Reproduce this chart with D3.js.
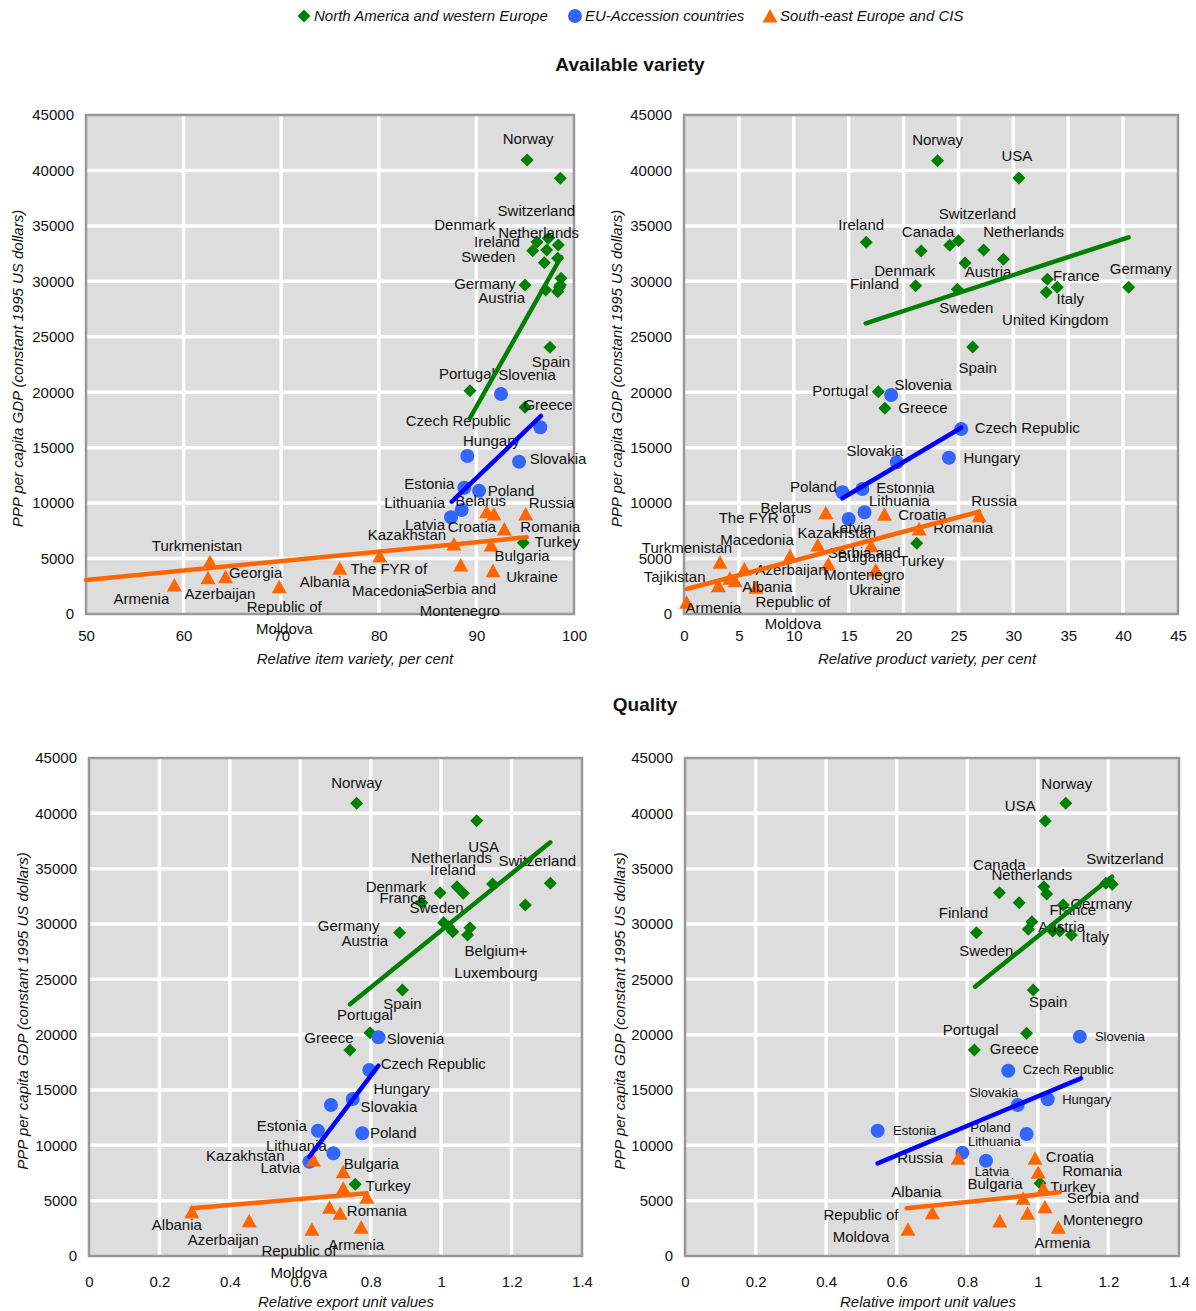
<!DOCTYPE html>
<html>
<head>
<meta charset="utf-8">
<script src="https://cdn.jsdelivr.net/npm/d3@7"></script>
<style>
  body { margin: 0; background: #fff; }
  svg text { font-family: "Liberation Sans", Arial, sans-serif; fill: #111; }
</style>
</head>
<body>
<svg id="chart" width="1196" height="1311"></svg>
<script>
// groups (legend order)
const groups = ['North America and western Europe', 'EU-Accession countries', 'South-east Europe and CIS'];

// y ticks (GDP) shared by all panels
const gdpTicks = [0, 5000, 10000, 15000, 20000, 25000, 30000, 35000, 40000, 45000];
const itemTicks = [50, 60, 70, 80, 90, 100];
const productTicks = [0, 5, 10, 15, 20, 25, 30, 35, 40, 45];
const unitValueTicks = [0, 0.2, 0.4, 0.6, 0.8, 1, 1.2, 1.4];

// [country, group, x value, PPP GDP per capita]
const itemVariety = [
  ['Norway', 0, 95.2, 40940], ['USA', 0, 98.6, 39290], ['Switzerland', 0, 97.37, 33880],
  ['Ireland', 0, 96.21, 33550], ['Canada', 0, 98.39, 33280], ['Denmark', 0, 95.77, 32760],
  ['Netherlands', 0, 97.2, 32830], ['Belgium+Luxembourg', 0, 98.33, 32080], ['Sweden', 0, 96.96, 31680],
  ['France', 0, 98.67, 30270], ['Finland', 0, 98.6, 29670], ['Italy', 0, 98.5, 29460],
  ['Germany', 0, 94.98, 29670], ['Austria', 0, 97.1, 29220], ['United Kingdom', 0, 98.33, 29070],
  ['Spain', 0, 97.54, 24050], ['Portugal', 0, 89.34, 20140], ['Greece', 0, 94.98, 18640],
  ['Turkey', 0, 94.8, 6430],
  ['Slovenia', 1, 92.52, 19840], ['Czech Republic', 1, 96.55, 16840], ['Hungary', 1, 89.07, 14250],
  ['Slovakia', 1, 94.37, 13730], ['Estonia', 1, 88.76, 11390], ['Poland', 1, 90.27, 11120],
  ['Lithuania', 1, 88.49, 9380], ['Latvia', 1, 87.4, 8720],
  ['Belarus', 2, 91.05, 9225], ['Croatia', 2, 91.8, 9020], ['Russia', 2, 95.05, 9020],
  ['Romania', 2, 92.86, 7665], ['Kazakhstan', 2, 87.7, 6310], ['Bulgaria', 2, 91.5, 6220],
  ['Serbia and Montenegro', 2, 88.4, 4420], ['Ukraine', 2, 91.7, 3905], ['Turkmenistan', 2, 62.7, 4716],
  ['Armenia', 2, 59.05, 2615], ['Azerbaijan', 2, 62.5, 3274], ['Georgia', 2, 64.3, 3364],
  ['Republic of Moldova', 2, 69.8, 2462], ['Albania', 2, 76.0, 4121], ['The FYR of Macedonia', 2, 80.1, 5230]
];

const productVariety = [
  ['Norway', 0, 23.1, 40880], ['USA', 0, 30.5, 39320], ['Switzerland', 0, 25.0, 33660],
  ['Ireland', 0, 16.6, 33520], ['Denmark', 0, 24.2, 33250], ['Netherlands', 0, 27.3, 32830],
  ['Canada', 0, 21.6, 32730], ['Belgium+Luxembourg', 0, 29.1, 31990], ['Austria', 0, 25.6, 31650],
  ['France', 0, 33.1, 30180], ['Finland', 0, 21.1, 29610], ['Italy', 0, 34.0, 29460],
  ['Germany', 0, 40.5, 29460], ['Sweden', 0, 24.9, 29280], ['United Kingdom', 0, 33.0, 29010],
  ['Spain', 0, 26.3, 24080], ['Portugal', 0, 17.7, 20050], ['Greece', 0, 18.3, 18550],
  ['Turkey', 0, 21.2, 6375],
  ['Slovenia', 1, 18.87, 19750], ['Czech Republic', 1, 25.25, 16680], ['Hungary', 1, 24.13, 14095],
  ['Slovakia', 1, 19.39, 13680], ['Poland', 1, 14.43, 10975], ['Estonia', 1, 16.25, 11270],
  ['Lithuania', 1, 16.44, 9170], ['Latvia', 1, 15.0, 8567],
  ['Belarus', 2, 12.92, 9135], ['Croatia', 2, 18.26, 8990], ['Russia', 2, 26.89, 8865],
  ['Romania', 2, 21.42, 7665], ['Kazakhstan', 2, 12.19, 6222], ['Bulgaria', 2, 17.05, 6160],
  ['Serbia and Montenegro', 2, 13.15, 4509], ['The FYR of Macedonia', 2, 9.66, 5260],
  ['Turkmenistan', 2, 3.28, 4660], ['Albania', 2, 5.5, 4058], ['Azerbaijan', 2, 4.65, 3003],
  ['Georgia', 2, 4.19, 3219], ['Republic of Moldova', 2, 6.56, 2408], ['Armenia', 2, 3.13, 2552],
  ['Tajikistan', 2, 0.24, 1055], ['Ukraine', 2, 17.47, 3968]
];

const exportUnitValues = [
  ['Norway', 0, 0.760, 40906], ['USA', 0, 1.101, 39335], ['Switzerland', 0, 1.310, 33677],
  ['Netherlands', 0, 1.146, 33614], ['Ireland', 0, 1.045, 33370], ['Denmark', 0, 0.997, 32830],
  ['Canada', 0, 1.063, 32770], ['France', 0, 0.945, 31925], ['United Kingdom', 0, 1.239, 31716],
  ['Sweden', 0, 1.007, 30120], ['Finland', 0, 1.021, 29755], ['Belgium+Luxembourg', 0, 1.082, 29667],
  ['Austria', 0, 1.033, 29305], ['Germany', 0, 0.882, 29214], ['Italy', 0, 1.075, 29005],
  ['Spain', 0, 0.890, 24035], ['Portugal', 0, 0.798, 20180], ['Greece', 0, 0.741, 18614],
  ['Turkey', 0, 0.756, 6480],
  ['Slovenia', 1, 0.822, 19760], ['Czech Republic', 1, 0.796, 16807], ['Hungary', 1, 0.749, 14187],
  ['Slovakia', 1, 0.687, 13644], ['Estonia', 1, 0.650, 11324], ['Poland', 1, 0.776, 11088],
  ['Lithuania', 1, 0.694, 9280], ['Latvia', 1, 0.626, 8521],
  ['Kazakhstan', 2, 0.637, 8675], ['Bulgaria', 2, 0.722, 7617], ['Croatia', 2, 0.722, 6117],
  ['Romania', 2, 0.789, 5300], ['Serbia and Montenegro', 2, 0.683, 4400], ['Ukraine', 2, 0.713, 3855],
  ['Albania', 2, 0.292, 4005], ['Azerbaijan', 2, 0.455, 3190], ['Republic of Moldova', 2, 0.633, 2410],
  ['Armenia', 2, 0.773, 2590]
];

const importUnitValues = [
  ['Norway', 0, 1.079, 40906], ['USA', 0, 1.021, 39307], ['Switzerland', 0, 1.193, 33677],
  ['Ireland', 0, 1.211, 33586], ['Netherlands', 0, 1.017, 33370], ['Canada', 0, 0.891, 32830],
  ['Denmark', 0, 1.025, 32710], ['Belgium+Luxembourg', 0, 0.947, 31925], ['Germany', 0, 1.072, 31716],
  ['United Kingdom', 0, 0.983, 30210], ['Sweden', 0, 0.973, 29520], ['Austria', 0, 1.042, 29370],
  ['France', 0, 1.062, 29370], ['Finland', 0, 0.826, 29214], ['Italy', 0, 1.095, 29000],
  ['Spain', 0, 0.987, 24035], ['Portugal', 0, 0.968, 20120], ['Greece', 0, 0.820, 18614],
  ['Turkey', 0, 1.006, 6570],
  ['Slovenia', 1, 1.119, 19820], ['Czech Republic', 1, 0.916, 16745], ['Slovakia', 1, 0.943, 13644],
  ['Hungary', 1, 1.028, 14158], ['Estonia', 1, 0.546, 11324], ['Poland', 1, 0.968, 11024],
  ['Lithuania', 1, 0.786, 9334], ['Latvia', 1, 0.853, 8611],
  ['Russia', 2, 0.774, 8830], ['Croatia', 2, 0.992, 8830], ['Romania', 2, 1.001, 7560],
  ['Kazakhstan', 2, 1.015, 6117], ['Bulgaria', 2, 0.958, 5214], ['Serbia and Montenegro', 2, 1.020, 4456],
  ['Ukraine', 2, 0.971, 3855], ['Albania', 2, 0.701, 3915], ['Georgia', 2, 0.892, 3160],
  ['Republic of Moldova', 2, 0.632, 2410], ['Armenia', 2, 1.058, 2590]
];

// trend lines: [group, x0, y0, x1, y1]
const itemTrends = [[0, 89.34, 17675, 98.67, 32194], [1, 87.47, 10127, 96.62, 17856], [2, 50, 3066, 95.15, 6917]];
const productTrends = [[0, 16.56, 26215, 40.5, 33971], [1, 14.43, 10434, 25.25, 16801], [2, 0.25, 2254, 26.89, 9225]];
const exportTrends = [[0, 0.741, 22743, 1.310, 37382], [1, 0.626, 8973, 0.822, 17196], [2, 0.292, 4310, 0.789, 5666]];
const importTrends = [[0, 0.822, 24334, 1.210, 34274], [1, 0.546, 8376, 1.122, 16057], [2, 0.628, 4310, 1.062, 5756]];

// label placement: pixel offset of the label centre from its marker [dx, dy, text override]
const itemLabels = {
  Norway: [1, -21], Switzerland: [-12, -28], Ireland: [-40, 0], Denmark: [-68, -26], Netherlands: [-8, -17],
  Sweden: [-56, -6], Germany: [-40, -1], Austria: [-44, 8], Spain: [1, 14], Portugal: [-3, -17],
  Greece: [23, -3], Turkey: [34, -1],
  Slovenia: [26, -19], 'Czech Republic': [-82, -7], Hungary: [24, -15], Slovakia: [39, -3],
  Estonia: [-35, -4], Poland: [32, 0], Lithuania: [-47, -7], Latvia: [-26, 7],
  Belarus: [-6, -11], Croatia: [-22, 13], Russia: [26, -11], Romania: [46, -2], Kazakhstan: [-47, -9],
  Bulgaria: [31, 11], 'Serbia and Montenegro': [-1, 24], Ukraine: [39, 6], Turkmenistan: [-13, -16],
  Armenia: [-33, 14], Azerbaijan: [12, 16], Georgia: [30, -4], 'Republic of Moldova': [5, 20],
  Albania: [-15, 13], 'The FYR of Macedonia': [9, 13]
};
const productLabels = {
  Norway: [0, -21], USA: [-2, -22], Switzerland: [19, -27], Ireland: [-5, -18], Denmark: [-45, 25],
  Netherlands: [40, -18], Canada: [7, -19], Austria: [23, 9], France: [29, -4], Finland: [-41, -2],
  Italy: [13, 11], Germany: [12, -19], Sweden: [9, 18], 'United Kingdom': [9, 27], Spain: [5, 21],
  Portugal: [-38, -1], Greece: [38, -1], Turkey: [5, 17],
  Slovenia: [32, -10], 'Czech Republic': [66, -1], Hungary: [43, 0], Slovakia: [-22, -12],
  Poland: [-29, -6], Estonia: [43, -1, 'Estonnia'], Lithuania: [35, -12], Latvia: [3, 9],
  Belarus: [-40, -5], Croatia: [38, 0], Russia: [15, -15], Romania: [44, -1], Kazakhstan: [19, -12],
  Bulgaria: [-6, 11], 'Serbia and Montenegro': [36, -11], 'The FYR of Macedonia': [-33, -38],
  Turkmenistan: [-33, -15], Albania: [23, 18], Azerbaijan: [56, -11], 'Republic of Moldova': [37, 14],
  Armenia: [-5, 22], Tajikistan: [-12, -26], Ukraine: [-1, 20]
};
const exportLabels = {
  Norway: [0, -21], USA: [7, 26], Switzerland: [-13, -23], Netherlands: [-41, -26], Ireland: [-4, -17],
  Denmark: [-44, -6], France: [-19, -5], Sweden: [-7, -15], 'Belgium+Luxembourg': [26, 23],
  Austria: [-88, 9], Germany: [-51, -7], Spain: [0, 14], Portugal: [-5, -18], Greece: [-21, -12],
  Turkey: [33, 1],
  Slovenia: [37, 1], 'Czech Republic': [64, -6], Hungary: [49, -10], Slovakia: [58, 2],
  Estonia: [-36, -5], Poland: [31, -1], Lithuania: [-37, -8], Latvia: [-29, 6],
  Kazakhstan: [-68, -4], Bulgaria: [28, -8], Romania: [10, 13], Albania: [-15, 13],
  Azerbaijan: [-26, 19], 'Republic of Moldova': [-13, 21], Armenia: [-5, 17]
};
const importLabels = {
  Norway: [1, -20], USA: [-25, -15], Switzerland: [19, -25], Netherlands: [-12, -12], Canada: [0, -28],
  Germany: [38, -1], Sweden: [-42, 21], Austria: [9, -4], France: [13, -21], Finland: [-13, -20],
  Italy: [24, 2], Spain: [15, 12], Portugal: [-56, -4], Greece: [40, -1], Turkey: [33, 3],
  Slovenia: [40, 0], 'Czech Republic': [60, -1], Slovakia: [-24, -13], Hungary: [39, 0],
  Estonia: [37, 0], Poland: [-36, -7], Lithuania: [32, -11], Latvia: [6, 11],
  Russia: [-38, -1], Croatia: [35, -2], Romania: [54, -2], Bulgaria: [-28, -15],
  'Serbia and Montenegro': [58, -9], Albania: [-16, -21], 'Republic of Moldova': [-47, -15], Armenia: [4, 15]
};

const labelLines = {
  'Republic of Moldova': ['Republic of', 'Moldova'],
  'The FYR of Macedonia': ['The FYR of', 'Macedonia'],
  'Serbia and Montenegro': ['Serbia and', 'Montenegro'],
  'Belgium+Luxembourg': ['Belgium+', 'Luxembourg']
};

const yTitle = 'PPP per capita GDP (constant 1995 US dollars)';

const markerColors = ['#008000', '#3366ff', '#ff6600'];
const lineColors = ['#008000', '#0000ff', '#ff6600'];

const svg = d3.select('#chart');

function marker(group) {
  if (group === 0) return 'M0,-6.5L6.5,0L0,6.5L-6.5,0Z';
  if (group === 1) return d3.arc()({innerRadius: 0, outerRadius: 7, startAngle: 0, endAngle: 2 * Math.PI});
  return 'M0,-7L7.5,6.5L-7.5,6.5Z';
}

const panels = [
  {points: itemVariety, labels: itemLabels, trends: itemTrends, domain: [50, 100], ticks: itemTicks,
    left: 86, right: 574, top: 115, bottom: 614, pad: 16,
    xTitle: 'Relative item variety, per cent', xTitleX: 355, xTitleY: 658, yTitleX: 17},
  {points: productVariety, labels: productLabels, trends: productTrends, domain: [0, 45], ticks: productTicks,
    left: 684, right: 1178, top: 115, bottom: 614, pad: 16,
    xTitle: 'Relative product variety, per cent', xTitleX: 927, xTitleY: 658, yTitleX: 616},
  {points: exportUnitValues, labels: exportLabels, trends: exportTrends, domain: [0, 1.4], ticks: unitValueTicks,
    left: 89, right: 582, top: 758, bottom: 1256, pad: 20,
    xTitle: 'Relative export unit values', xTitleX: 346, xTitleY: 1301, yTitleX: 22},
  {points: importUnitValues, labels: importLabels, trends: importTrends, domain: [0, 1.4], ticks: unitValueTicks,
    left: 685, right: 1179, top: 758, bottom: 1256, pad: 20, smallBlue: true,
    xTitle: 'Relative import unit values', xTitleX: 928, xTitleY: 1301, yTitleX: 619}
];

panels.forEach((p) => {
  const x = d3.scaleLinear().domain(p.domain).range([p.left, p.right]);
  const y = d3.scaleLinear().domain([0, 45000]).range([p.bottom, p.top]);
  const g = svg.append('g');

  // plot area
  g.append('rect')
    .attr('x', p.left).attr('y', p.top)
    .attr('width', p.right - p.left).attr('height', p.bottom - p.top)
    .attr('fill', '#dddddd');

  g.append('g').selectAll('line')
    .data(p.ticks.slice(1, -1))
    .enter()
    .append('line')
    .attr('x1', d => x(d)).attr('x2', d => x(d))
    .attr('y1', p.top).attr('y2', p.bottom)
    .attr('stroke', '#fff').attr('stroke-width', 3.5);

  g.append('g').selectAll('line')
    .data(gdpTicks.slice(1, -1))
    .enter()
    .append('line')
    .attr('x1', p.left).attr('x2', p.right)
    .attr('y1', d => y(d)).attr('y2', d => y(d))
    .attr('stroke', '#fff').attr('stroke-width', 3.5);

  g.append('rect')
    .attr('x', p.left).attr('y', p.top)
    .attr('width', p.right - p.left).attr('height', p.bottom - p.top)
    .attr('fill', 'none').attr('stroke', '#999').attr('stroke-width', 2.5);

  // axes
  const xAxis = g.append('g')
    .attr('transform', `translate(0,${p.bottom})`)
    .call(d3.axisBottom(x).tickValues(p.ticks).tickSize(0).tickPadding(p.pad).tickFormat(d3.format('~g')));
  xAxis.select('.domain').remove();
  xAxis.selectAll('text').style('font-size', '15px');

  const yAxis = g.append('g')
    .attr('transform', `translate(${p.left},0)`)
    .call(d3.axisLeft(y).tickValues(gdpTicks).tickSize(0).tickPadding(12).tickFormat(d3.format('d')));
  yAxis.select('.domain').remove();
  yAxis.selectAll('text').style('font-size', '15px');

  g.append('text')
    .attr('x', p.xTitleX).attr('y', p.xTitleY)
    .attr('text-anchor', 'middle').attr('dominant-baseline', 'central')
    .style('font-size', '15px').style('font-style', 'italic')
    .text(p.xTitle);

  const yMid = (p.top + p.bottom) / 2 + 4;
  g.append('text')
    .attr('transform', `translate(${p.yTitleX},${yMid}) rotate(-90)`)
    .attr('text-anchor', 'middle').attr('dominant-baseline', 'central')
    .style('font-size', '15px').style('font-style', 'italic')
    .text(yTitle);

  // markers, group by group
  const ordered = [0, 1, 2].flatMap(k => p.points.filter(d => d[1] === k));
  g.append('g').selectAll('path')
    .data(ordered)
    .enter()
    .append('path')
    .attr('transform', d => `translate(${x(d[2])},${y(d[3])})`)
    .attr('d', d => marker(d[1]))
    .attr('fill', d => markerColors[d[1]]);

  // country labels
  const labelled = p.points.filter(d => p.labels[d[0]]);
  const texts = g.append('g').selectAll('text')
    .data(labelled)
    .enter()
    .append('text')
    .attr('text-anchor', 'middle')
    .style('font-size', d => (p.smallBlue && d[1] === 1 ? '13px' : '15px'));

  texts.each(function (d) {
    const [dx, dy, override] = p.labels[d[0]];
    const lines = override ? [override] : (labelLines[d[0]] || [d[0]]);
    const t = d3.select(this);
    lines.forEach((line, i) => {
      t.append('tspan')
        .attr('x', x(d[2]) + dx)
        .attr('y', y(d[3]) + dy + i * 22)
        .attr('dy', '0.35em')
        .text(line);
    });
  });

  // trend lines
  g.append('g').selectAll('line')
    .data(p.trends)
    .enter()
    .append('line')
    .attr('x1', d => x(d[1])).attr('y1', d => y(d[2]))
    .attr('x2', d => x(d[3])).attr('y2', d => y(d[4]))
    .attr('stroke', d => lineColors[d[0]])
    .attr('stroke-width', 4.5)
    .attr('stroke-linecap', 'round');
});

// section titles
svg.append('text')
  .attr('x', 630).attr('y', 64)
  .attr('text-anchor', 'middle').attr('dominant-baseline', 'central')
  .style('font-size', '19px').style('font-weight', 'bold')
  .text('Available variety');

svg.append('text')
  .attr('x', 645).attr('y', 704)
  .attr('text-anchor', 'middle').attr('dominant-baseline', 'central')
  .style('font-size', '19px').style('font-weight', 'bold')
  .text('Quality');

// legend
const legendX = [304, 575, 770];
const legend = svg.append('g').selectAll('g')
  .data(groups)
  .enter()
  .append('g')
  .attr('transform', (d, i) => `translate(${legendX[i]},16)`);

legend.append('path')
  .attr('d', (d, i) => marker(i))
  .attr('fill', (d, i) => markerColors[i]);

legend.append('text')
  .attr('x', 10)
  .attr('dy', '0.35em')
  .style('font-size', '15px').style('font-style', 'italic')
  .text(d => d);
</script>
</body>
</html>
